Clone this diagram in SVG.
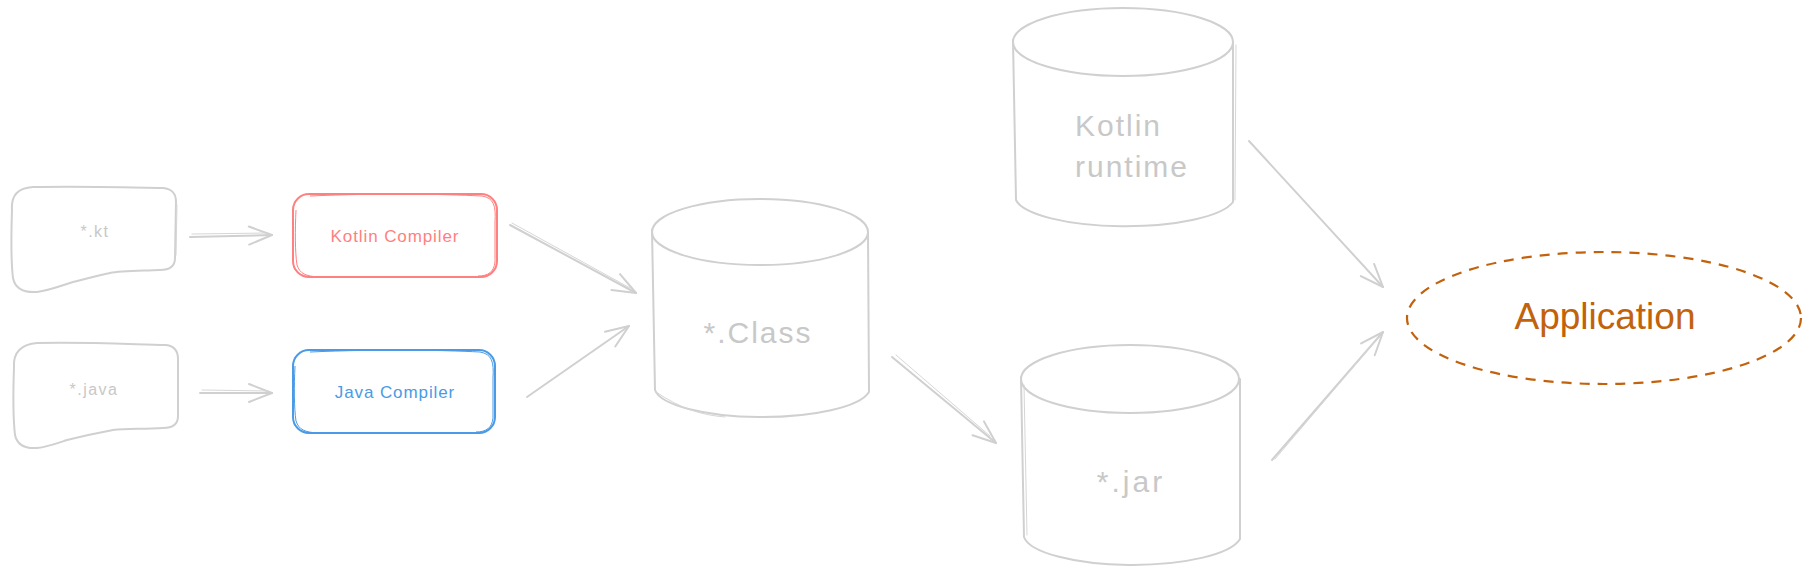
<svg xmlns="http://www.w3.org/2000/svg" width="1813" height="578" viewBox="0 0 1813 578">
<defs>
<style>
.g{fill:none;stroke:#d0d0d0;stroke-width:2;stroke-linecap:round;stroke-linejoin:round}
.g2{fill:none;stroke:#d6d6d6;stroke-width:1;stroke-linecap:round}
.t{font-family:"Liberation Sans",Arial,sans-serif;fill:#c8c8c8;text-anchor:middle}
.ts{font-family:"Liberation Sans",Arial,sans-serif;fill:#c8c8c8;text-anchor:start}
.red{fill:none;stroke:#ff8080;stroke-width:2}
.red2{fill:none;stroke:#ff8080;stroke-width:1}
.blue{fill:none;stroke:#4a9ae6;stroke-width:2}
.blue2{fill:none;stroke:#4a9ae6;stroke-width:1}
</style>
<marker id="arr" markerUnits="userSpaceOnUse" viewBox="-26 -14 30 28" refX="0" refY="0" markerWidth="30" markerHeight="28" orient="auto" overflow="visible">
<path d="M-23,-9 L0,0 L-23,9" fill="none" stroke="#d0d0d0" stroke-width="2" stroke-linecap="round" stroke-linejoin="round"/>
</marker>
</defs>
<rect width="1813" height="578" fill="#ffffff"/>

<g id="kt">
<path class="g" d="M12,210 C11,195 18,188 33,187 C80,186 120,187 163,188 C172,189 176,193 176,202 L175,258 C175,266 170,270 160,270 C135,271 120,271 110,273 C95,276 85,279 73,282 C60,286 50,290 37,292 C22,293 15,288 13,278 C11,262 11,240 12,210 Z"/>
<path class="g2" d="M177,205 L176,255"/>
<text class="t" x="95" y="237" font-size="16" letter-spacing="1.5">*.kt</text>
</g>

<g id="java">
<path class="g" d="M14,367 C13,352 22,344 37,343 C85,342 125,344 166,345 C174,346 178,350 178,359 L178,416 C178,424 173,428 163,428 C140,429 125,429 113,430 C97,433 83,436 67,440 C55,444 47,447 37,448 C23,449 17,444 15,435 C13,418 13,395 14,367 Z"/>
<text class="t" x="94" y="395" font-size="16" letter-spacing="1.5">*.java</text>
</g>

<g id="kotlin-compiler">
<rect class="red" x="293" y="194" width="204" height="83" rx="16"/>
<path class="red2" d="M310,196 C380,193 440,194 482,196 C494,198 496,206 495,222 L495,262 C494,272 488,276 478,276 M296,210 C295,230 295,252 297,265 C300,274 306,276 318,277"/>
<text x="395" y="242" font-size="17" letter-spacing="0.9" fill="#ff7f7f" text-anchor="middle" font-family="Liberation Sans, Arial, sans-serif">Kotlin Compiler</text>
</g>

<g id="java-compiler">
<rect class="blue" x="293" y="350" width="202" height="83" rx="16"/>
<path class="blue2" d="M310,352 C380,349 440,350 480,352 C492,354 494,362 493,378 L493,418 C492,428 486,432 476,432 M295,366 C294,386 294,408 296,421 C299,430 305,432 317,433"/>
<text x="395" y="398" font-size="17" letter-spacing="0.9" fill="#4a9ae6" text-anchor="middle" font-family="Liberation Sans, Arial, sans-serif">Java Compiler</text>
</g>

<g id="class">
<ellipse class="g" cx="760" cy="232" rx="108" ry="33"/>
<path class="g" d="M652,230 L655,390 A108,30 0 0 0 869,392 L868,232"/>
<path class="g2" d="M656,392 C680,408 700,415 725,417"/>
<text class="t" x="758" y="343" font-size="30" letter-spacing="2">*.Class</text>
</g>

<g id="kotlin-runtime">
<ellipse class="g" cx="1123" cy="42" rx="110" ry="34"/>
<path class="g" d="M1013,40 L1016,200 A110,30 0 0 0 1233,202 L1233,42"/>
<path class="g2" d="M1236,45 L1235,200"/>
<text class="ts" x="1075" y="136" font-size="30" letter-spacing="2">Kotlin</text>
<text class="ts" x="1075" y="177" font-size="30" letter-spacing="2">runtime</text>
</g>

<g id="jar">
<ellipse class="g" cx="1130" cy="379" rx="109" ry="34"/>
<path class="g" d="M1021,377 L1024,537 A109,31 0 0 0 1240,539 L1240,379"/>
<path class="g2" d="M1024,385 L1027,535"/>
<text class="t" x="1131" y="492" font-size="30" letter-spacing="3">*.jar</text>
</g>

<g id="application">
<ellipse cx="1604" cy="318" rx="197" ry="66" fill="none" stroke="#c2620c" stroke-width="2.2" stroke-dasharray="10 8"/>
<text x="1605" y="329" font-size="37" fill="#c2620c" text-anchor="middle" font-family="Liberation Sans, Arial, sans-serif">Application</text>
</g>

<g id="connectors">
<path class="g" d="M190,237 L272,235" marker-end="url(#arr)"/>
<path class="g2" d="M192,234 L268,233"/>
<path class="g" d="M200,393 L272,393" marker-end="url(#arr)"/>
<path class="g2" d="M202,390 L268,391"/>
<path class="g" d="M510,225 L636,293" marker-end="url(#arr)"/>
<path class="g2" d="M512,223 L630,288"/>
<path class="g" d="M527,397 L629,326" marker-end="url(#arr)"/>
<path class="g" d="M892,357 L996,443" marker-end="url(#arr)"/>
<path class="g2" d="M896,355 L990,436"/>
<path class="g" d="M1249,141 L1383,287" marker-end="url(#arr)"/>
<path class="g" d="M1272,460 L1383,332" marker-end="url(#arr)"/>
<path class="g2" d="M1275,459 L1378,338"/>
</g>
</svg>
